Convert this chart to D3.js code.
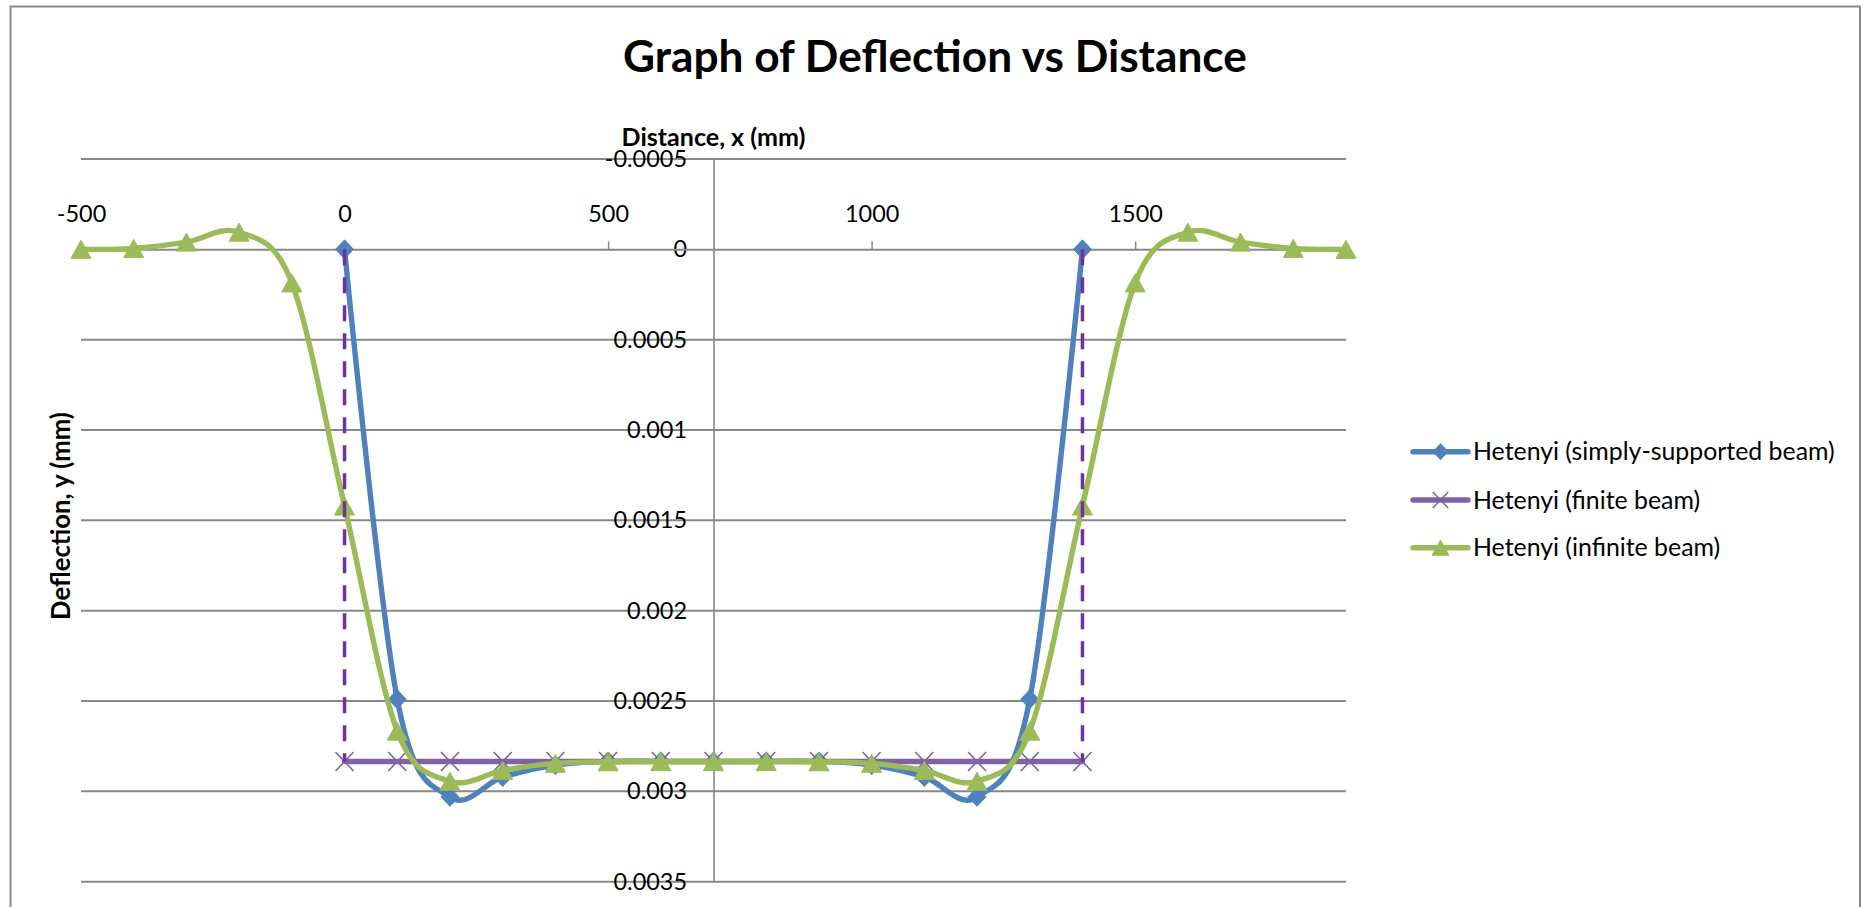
<!DOCTYPE html>
<html>
<head>
<meta charset="utf-8">
<script src="https://cdn.jsdelivr.net/npm/d3@7"></script>
<style>
  html, body { margin: 0; padding: 0; background: #ffffff; }
  svg { display: block; font-family: Lato, "Open Sans", "Liberation Sans", sans-serif; }
</style>
</head>
<body>
<svg id="chart" width="1864" height="907"></svg>
<script>
// ---------- chart text ----------
const chartTitle = "Graph of Deflection vs Distance";
const xAxisTitle = "Distance, x (mm)";
const yAxisTitle = "Deflection, y (mm)";
const seriesNames = [
  "Hetenyi (simply-supported beam)",
  "Hetenyi (finite beam)",
  "Hetenyi (infinite beam)"
];

// ---------- data (x in mm, deflection in mm, positive = downward) ----------
const beamX = [0, 100, 200, 300, 400, 500, 600, 700, 800, 900, 1000, 1100, 1200, 1300, 1400];
const simplySupported = [0, 0.00249, 0.00303, 0.00292, 0.002855, 0.002834, 0.002834, 0.002835,
  0.002834, 0.002834, 0.002855, 0.00292, 0.00303, 0.00249, 0];
const finiteBeam = [0.002835, 0.002835, 0.002835, 0.002835, 0.002835, 0.002835, 0.002835, 0.002835,
  0.002835, 0.002835, 0.002835, 0.002835, 0.002835, 0.002835, 0.002835];
const infiniteX = [-500, -400, -300, -200, -100, 0, 100, 200, 300, 400, 500, 600, 700, 800, 900,
  1000, 1100, 1200, 1300, 1400, 1500, 1600, 1700, 1800, 1900];
const infiniteBeam = [0, -0.000005, -0.00004, -0.000095, 0.000186, 0.001421, 0.002667, 0.002944,
  0.002884, 0.002845, 0.002836, 0.002835, 0.002835, 0.002835, 0.002836, 0.002845, 0.002884,
  0.002944, 0.002667, 0.001421, 0.000186, -0.000095, -0.00004, -0.000005, 0];
// beam ends of the finite beam, drawn as dashed drops
const supportX = [0, 1400];
const supportDrop = [0, 0.002835];

const xTicks = [-500, 0, 500, 1000, 1500];
const xTickLabels = ["-500", "0", "500", "1000", "1500"];
const yTicks = [-0.0005, 0, 0.0005, 0.001, 0.0015, 0.002, 0.0025, 0.003, 0.0035];
const yTickLabels = ["-0.0005", "0", "0.0005", "0.001", "0.0015", "0.002", "0.0025", "0.003", "0.0035"];
const yAxisCrossesAt = 700;

// ---------- styling ----------
const colors = { simply: "#4F81BD", finite: "#8064A2", infinite: "#9BBB59", support: "#7030A0", grid: "#888888" };

const svg = d3.select("#chart");

// scale font size of a text node so it spans the given width
function fitWidth(sel, width) {
  const w = sel.node().getComputedTextLength();
  const fs = parseFloat(sel.attr("font-size"));
  const size = fs * width / w;
  sel.attr("font-size", size);
  return size;
}

const x = d3.scaleLinear().domain([-500, 1900]).range([81, 1346]);
const y = d3.scaleLinear().domain([-0.0005, 0.0035]).range([159, 881.7]);

// outer chart border
svg.append("rect")
  .attr("x", 10.5).attr("y", 6.5).attr("width", 1849.5).attr("height", 940)
  .attr("fill", "none").attr("stroke", "#8a8a8a").attr("stroke-width", 2);

// title
const title = svg.append("text")
  .attr("x", 935).attr("y", 71.5)
  .attr("text-anchor", "middle").attr("font-weight", 700).attr("font-size", 44)
  .attr("fill", "#000").text(chartTitle);
fitWidth(title, 624);

// horizontal gridlines
svg.append("g").selectAll("line").data(yTicks.filter(d => d !== 0)).join("line")
  .attr("x1", x.range()[0]).attr("x2", x.range()[1])
  .attr("y1", d => y(d)).attr("y2", d => y(d))
  .attr("stroke", colors.grid).attr("stroke-width", 2);

// vertical value axis
const yAxis = d3.axisLeft(y).tickValues(yTicks).tickSize(0).tickPadding(26.5)
  .tickFormat((d, i) => yTickLabels[i]);
const yAxisG = svg.append("g")
  .attr("transform", `translate(${x(yAxisCrossesAt)},0)`)
  .call(yAxis);
yAxisG.select(".domain").attr("stroke", colors.grid).attr("stroke-width", 1.6);

// horizontal category axis sits at zero deflection, labels above it
const xAxis = d3.axisTop(x).tickValues(xTicks).tickSize(8).tickSizeOuter(0).tickPadding(19.6)
  .tickFormat((d, i) => xTickLabels[i]);
const xAxisG = svg.append("g")
  .attr("transform", `translate(0,${y(0)})`)
  .call(xAxis);
xAxisG.select(".domain").attr("stroke", colors.grid).attr("stroke-width", 2);
xAxisG.selectAll(".tick line").attr("stroke", colors.grid).attr("stroke-width", 1.5);

// tick label font
const sample = yAxisG.selectAll(".tick text").filter((d) => d === 0.0025);
sample.attr("font-size", 25);
const tickSize = fitWidth(sample, 71.7);
svg.selectAll(".tick text").attr("font-size", tickSize).attr("fill", "#000")
  .attr("font-family", null);
[xAxisG, yAxisG].forEach(g => g.attr("font-family", null).attr("font-size", null));

// axis titles
const xt = svg.append("text")
  .attr("x", x(yAxisCrossesAt)).attr("y", 146)
  .attr("text-anchor", "middle").attr("font-weight", 700).attr("font-size", 24)
  .attr("fill", "#000").text(xAxisTitle);
fitWidth(xt, 184);

const yt = svg.append("text")
  .attr("transform", "translate(61,516) rotate(-90)")
  .attr("text-anchor", "middle").attr("dy", "0.36em")
  .attr("font-weight", 700).attr("font-size", 24)
  .attr("fill", "#000").text(yAxisTitle);
fitWidth(yt, 208);

// marker shapes
const markers = {
  diamond: "M0,-9.5L9,0L0,9.5L-9,0Z",
  cross: "M-9,-9.5L9,9.5M-9,9.5L9,-9.5",
  triangle: "M0,-9L10,9L-10,9Z"
};

const smooth = d3.line().curve(d3.curveCardinal.tension(0));

function drawSeries(xs, ys, color, marker, smoothLine) {
  const pts = xs.map((v, i) => [x(v), y(ys[i])]);
  const g = svg.append("g");
  const gen = smoothLine ? smooth : d3.line();
  g.append("path").attr("d", gen(pts))
    .attr("fill", "none").attr("stroke", color).attr("stroke-width", 5.4)
    .attr("stroke-linejoin", "round").attr("stroke-linecap", "round");
  const m = g.selectAll("path.m").data(pts).join("path").attr("class", "m")
    .attr("transform", d => `translate(${d[0]},${d[1]})`)
    .attr("d", markers[marker]);
  if (marker === "cross") m.attr("fill", "none").attr("stroke", color).attr("stroke-width", 1.6);
  else m.attr("fill", color).attr("stroke", color).attr("stroke-width", 1);
}

drawSeries(beamX, simplySupported, colors.simply, "diamond", true);
drawSeries(beamX, finiteBeam, colors.finite, "cross", false);
drawSeries(infiniteX, infiniteBeam, colors.infinite, "triangle", true);

// dashed drops at the finite beam ends
svg.append("g").selectAll("line").data(supportX).join("line")
  .attr("x1", d => x(d)).attr("x2", d => x(d))
  .attr("y1", y(supportDrop[0])).attr("y2", y(supportDrop[1]))
  .attr("stroke", colors.support).attr("stroke-width", 3.5)
  .attr("stroke-dasharray", "16,12");

// legend
const legendItems = [
  { name: seriesNames[0], color: colors.simply, marker: "diamond" },
  { name: seriesNames[1], color: colors.finite, marker: "cross" },
  { name: seriesNames[2], color: colors.infinite, marker: "triangle" }
];
const legendRows = [451.7, 500, 547.7];
const lg = svg.append("g");
const rows = lg.selectAll("g").data(legendItems).join("g")
  .attr("transform", (d, i) => `translate(0,${legendRows[i]})`);
rows.append("line").attr("x1", 1413).attr("x2", 1468).attr("y1", 0).attr("y2", 0)
  .attr("stroke", d => d.color).attr("stroke-width", 5.4).attr("stroke-linecap", "round");
rows.append("path")
  .attr("transform", "translate(1440.5,0) scale(0.85)")
  .attr("d", d => markers[d.marker])
  .attr("fill", d => d.marker === "cross" ? "none" : d.color)
  .attr("stroke", d => d.color)
  .attr("stroke-width", d => d.marker === "cross" ? 1.8 : 1);
const labels = rows.append("text").attr("x", 1473).attr("dy", "0.35em")
  .attr("font-size", 25).attr("fill", "#000").text(d => d.name);
const legendSize = fitWidth(labels.filter((d, i) => i === 0), 362);
labels.attr("font-size", legendSize);
</script>
</body>
</html>
